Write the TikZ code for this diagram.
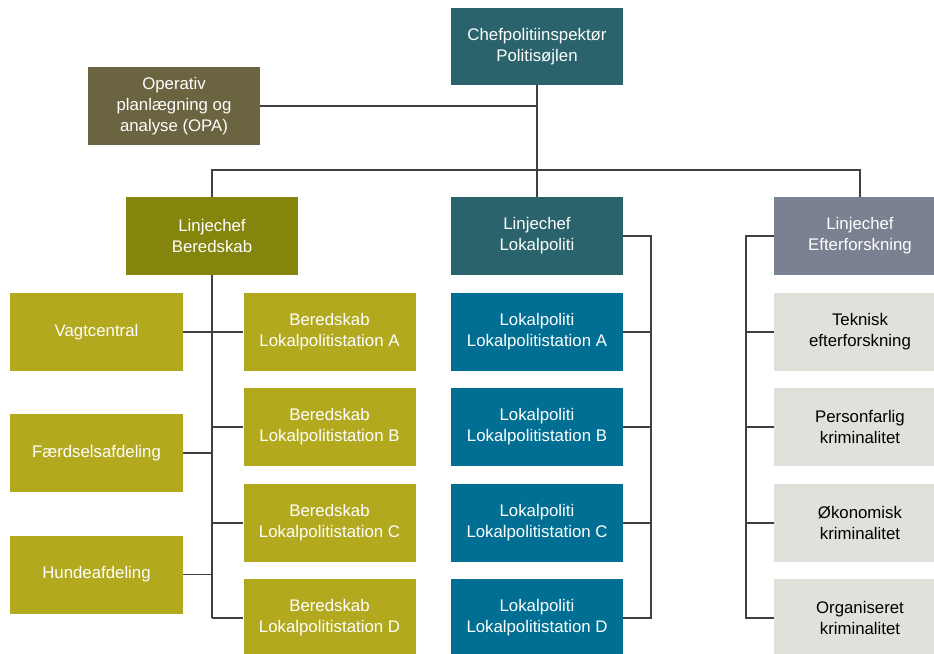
\documentclass[tikz,border=0pt]{standalone}
\usepackage{fontspec}
\setmainfont{Liberation Sans}
\definecolor{cteal}{HTML}{2A636C}
\definecolor{copa}{HTML}{6B6440}
\definecolor{cbered}{HTML}{84850C}
\definecolor{cbox}{HTML}{B3A91F}
\definecolor{clok}{HTML}{006F93}
\definecolor{ceft}{HTML}{7A8190}
\definecolor{cgrey}{HTML}{E1E1DC}
\definecolor{cline}{HTML}{404040}
\tikzset{
  box/.style={rectangle, inner sep=0pt, minimum width=172pt, minimum height=78pt,
    align=center, text=white, font=\fontsize{16.8}{21}\selectfont},
  conn/.style={draw=cline, line width=1.2pt},
}
\begin{document}
\begin{tikzpicture}[x=1pt,y=-1pt]
\useasboundingbox (0,0) rectangle (934,653);
\clip (0,0) rectangle (934,653);
% top
\node[box, fill=cteal, minimum height=77pt] (chef) at (537,46.5) {Chefpolitiinspektør\\Politisøjlen};
\node[box, fill=copa] (opa) at (174,106) {Operativ\\planlægning og\\analyse (OPA)};
% linjechefer
\node[box, fill=cbered] (lb) at (212,236) {Linjechef\\Beredskab};
\node[box, fill=cteal] (lok) at (537,236) {Linjechef\\Lokalpoliti};
\node[box, fill=ceft] (eft) at (860,236) {Linjechef\\Efterforskning};
% beredskab
\node[box, fill=cbox] (bA) at (329.5,332) {Beredskab\\Lokalpolitistation A};
\node[box, fill=cbox] (bB) at (329.5,427) {Beredskab\\Lokalpolitistation B};
\node[box, fill=cbox] (bC) at (329.5,523) {Beredskab\\Lokalpolitistation C};
\node[box, fill=cbox] (bD) at (329.5,618) {Beredskab\\Lokalpolitistation D};
\node[box, fill=cbox, minimum width=173pt] (vag) at (96.5,332) {Vagtcentral};
\node[box, fill=cbox, minimum width=173pt] (faerd) at (96.5,453) {Færdselsafdeling};
\node[box, fill=cbox, minimum width=173pt] (hund) at (96.5,574.5) {Hundeafdeling};
% lokalpoliti
\node[box, fill=clok] (lA) at (537,332) {Lokalpoliti\\Lokalpolitistation A};
\node[box, fill=clok] (lB) at (537,427) {Lokalpoliti\\Lokalpolitistation B};
\node[box, fill=clok] (lC) at (537,523) {Lokalpoliti\\Lokalpolitistation C};
\node[box, fill=clok] (lD) at (537,618) {Lokalpoliti\\Lokalpolitistation D};
% efterforskning
\node[box, fill=cgrey, text=black] (t1) at (860,332) {Teknisk\\efterforskning};
\node[box, fill=cgrey, text=black] (t2) at (860,427) {Personfarlig\\kriminalitet};
\node[box, fill=cgrey, text=black] (t3) at (860,523) {Økonomisk\\kriminalitet};
\node[box, fill=cgrey, text=black] (t4) at (860,618) {Organiseret\\kriminalitet};
% coordinates
\coordinate (bus) at (0,170);
\coordinate (lspine) at (651,0);
\coordinate (espine) at (746,0);
% connectors
\draw[conn] (chef.south) -- (lok.north);
\draw[conn] (opa.east) -- (opa.east -| chef.south);
\draw[conn] (lb.north) -- (lb.north |- bus) -- (eft.north |- bus) -- (eft.north);
\draw[conn] (lb.south) -- (lb.south |- bD.west);
\foreach \n in {bA,bB,bC,bD}{\draw[conn] (\n.west) -- (\n.west -| lb.south);}
\foreach \n in {vag,faerd,hund}{\draw[conn] (\n.east) -- (\n.east -| lb.south);}
\draw[conn] (lok.east) -- (lok.east -| lspine) -- (lspine |- lD.east) -- (lD.east);
\foreach \n in {lA,lB,lC}{\draw[conn] (\n.east) -- (\n.east -| lspine);}
\draw[conn] (eft.west) -- (eft.west -| espine) -- (espine |- t4.west) -- (t4.west);
\foreach \n in {t1,t2,t3}{\draw[conn] (\n.west) -- (\n.west -| espine);}
\end{tikzpicture}
\end{document}
